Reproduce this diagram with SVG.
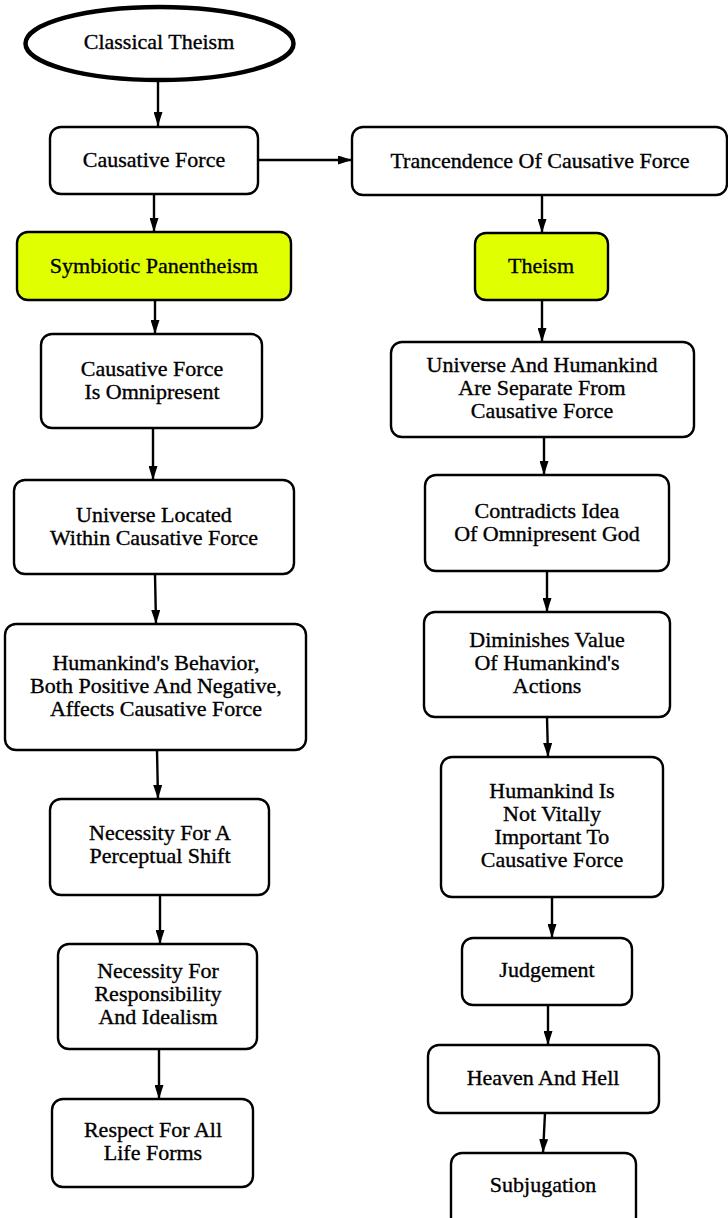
<svg xmlns="http://www.w3.org/2000/svg" width="728" height="1218" viewBox="0 0 728 1218">
<style>
.box{fill:#fff;stroke:#000;stroke-width:2.4}
.hl{fill:#e0ff00;stroke:#000;stroke-width:2.4}
text{font-family:"Liberation Serif","Times New Roman",serif;font-size:22px;fill:#000;stroke:#000;stroke-width:0.35;text-anchor:middle}
.c line{stroke:#000;stroke-width:2.4}
</style>
<defs>
<marker id="ah" viewBox="0 0 14 9" refX="14" refY="4.5" markerWidth="14" markerHeight="9" markerUnits="userSpaceOnUse" orient="auto">
<path d="M0,0 L14,4.5 L0,9 z" fill="#000"/>
</marker>
</defs>
<rect width="728" height="1218" fill="#fff"/>
<g class="c">
<line x1="158" y1="82" x2="158" y2="126" marker-end="url(#ah)"/>
<line x1="154" y1="194" x2="154" y2="232" marker-end="url(#ah)"/>
<line x1="258" y1="160" x2="352" y2="160" marker-end="url(#ah)"/>
<line x1="542" y1="195" x2="542" y2="233" marker-end="url(#ah)"/>
<line x1="155" y1="300" x2="155" y2="334" marker-end="url(#ah)"/>
<line x1="153" y1="428" x2="153" y2="480" marker-end="url(#ah)"/>
<line x1="155" y1="574" x2="156" y2="624" marker-end="url(#ah)"/>
<line x1="157" y1="750" x2="158" y2="799" marker-end="url(#ah)"/>
<line x1="160" y1="895" x2="160" y2="944" marker-end="url(#ah)"/>
<line x1="159" y1="1049" x2="159" y2="1099" marker-end="url(#ah)"/>
<line x1="542" y1="300" x2="542" y2="342" marker-end="url(#ah)"/>
<line x1="544" y1="437" x2="544" y2="475" marker-end="url(#ah)"/>
<line x1="547" y1="571" x2="547" y2="612" marker-end="url(#ah)"/>
<line x1="547" y1="717" x2="548" y2="757" marker-end="url(#ah)"/>
<line x1="552" y1="897" x2="552" y2="938" marker-end="url(#ah)"/>
<line x1="548" y1="1005" x2="548" y2="1045" marker-end="url(#ah)"/>
<line x1="545" y1="1113" x2="543" y2="1153" marker-end="url(#ah)"/>
</g>
<g id="n-classical">
<ellipse cx="159.5" cy="43.5" rx="134" ry="36.5" fill="#fff" stroke="#000" stroke-width="4.5"/>
<text x="159" y="49">Classical Theism</text>
</g>
<g id="n-cf">
<rect class="box" x="50" y="127" width="208" height="67" rx="11"/>
<text x="154" y="167">Causative Force</text>
</g>
<g id="n-tr">
<rect class="box" x="352" y="127" width="375" height="68" rx="11"/>
<text x="540" y="168">Trancendence Of Causative Force</text>
</g>
<g id="n-symb">
<rect class="hl" x="17" y="232" width="274" height="68" rx="11"/>
<text x="154" y="273">Symbiotic Panentheism</text>
</g>
<g id="n-theism">
<rect class="hl" x="475" y="233" width="133" height="67" rx="11"/>
<text x="541" y="273">Theism</text>
</g>
<g id="n-omni">
<rect class="box" x="41" y="334" width="221" height="94" rx="11"/>
<text x="152" y="376">Causative Force</text>
<text x="152" y="399">Is Omnipresent</text>
</g>
<g id="n-univ">
<rect class="box" x="14" y="480" width="280" height="94" rx="11"/>
<text x="154" y="522">Universe Located</text>
<text x="154" y="545">Within Causative Force</text>
</g>
<g id="n-hb">
<rect class="box" x="5" y="624" width="301" height="126" rx="11"/>
<text x="156" y="670">Humankind's Behavior,</text>
<text x="156" y="693">Both Positive And Negative,</text>
<text x="156" y="716">Affects Causative Force</text>
</g>
<g id="n-nps">
<rect class="box" x="50" y="799" width="219" height="96" rx="11"/>
<text x="160" y="840">Necessity For A</text>
<text x="160" y="863">Perceptual Shift</text>
</g>
<g id="n-nri">
<rect class="box" x="58" y="944" width="199" height="105" rx="11"/>
<text x="158" y="978">Necessity For</text>
<text x="158" y="1001">Responsibility</text>
<text x="158" y="1024">And Idealism</text>
</g>
<g id="n-resp">
<rect class="box" x="52" y="1099" width="201" height="88" rx="11"/>
<text x="153" y="1137">Respect For All</text>
<text x="153" y="1160">Life Forms</text>
</g>
<g id="n-uah">
<rect class="box" x="391" y="342" width="303" height="95" rx="11"/>
<text x="542" y="372">Universe And Humankind</text>
<text x="542" y="395">Are Separate From</text>
<text x="542" y="418">Causative Force</text>
</g>
<g id="n-contra">
<rect class="box" x="425" y="475" width="244" height="96" rx="11"/>
<text x="547" y="518">Contradicts Idea</text>
<text x="547" y="541">Of Omnipresent God</text>
</g>
<g id="n-dimin">
<rect class="box" x="424" y="612" width="246" height="105" rx="11"/>
<text x="547" y="647">Diminishes Value</text>
<text x="547" y="670">Of Humankind's</text>
<text x="547" y="693">Actions</text>
</g>
<g id="n-hinv">
<rect class="box" x="441" y="757" width="222" height="140" rx="11"/>
<text x="552" y="798">Humankind Is</text>
<text x="552" y="821">Not Vitally</text>
<text x="552" y="844">Important To</text>
<text x="552" y="867">Causative Force</text>
</g>
<g id="n-judge">
<rect class="box" x="462" y="938" width="170" height="67" rx="11"/>
<text x="547" y="977">Judgement</text>
</g>
<g id="n-heaven">
<rect class="box" x="428" y="1045" width="231" height="68" rx="11"/>
<text x="543" y="1085">Heaven And Hell</text>
</g>
<g id="n-subj">
<rect class="box" x="451" y="1153" width="185" height="75" rx="11"/>
<text x="543" y="1192">Subjugation</text>
</g>
</svg>
